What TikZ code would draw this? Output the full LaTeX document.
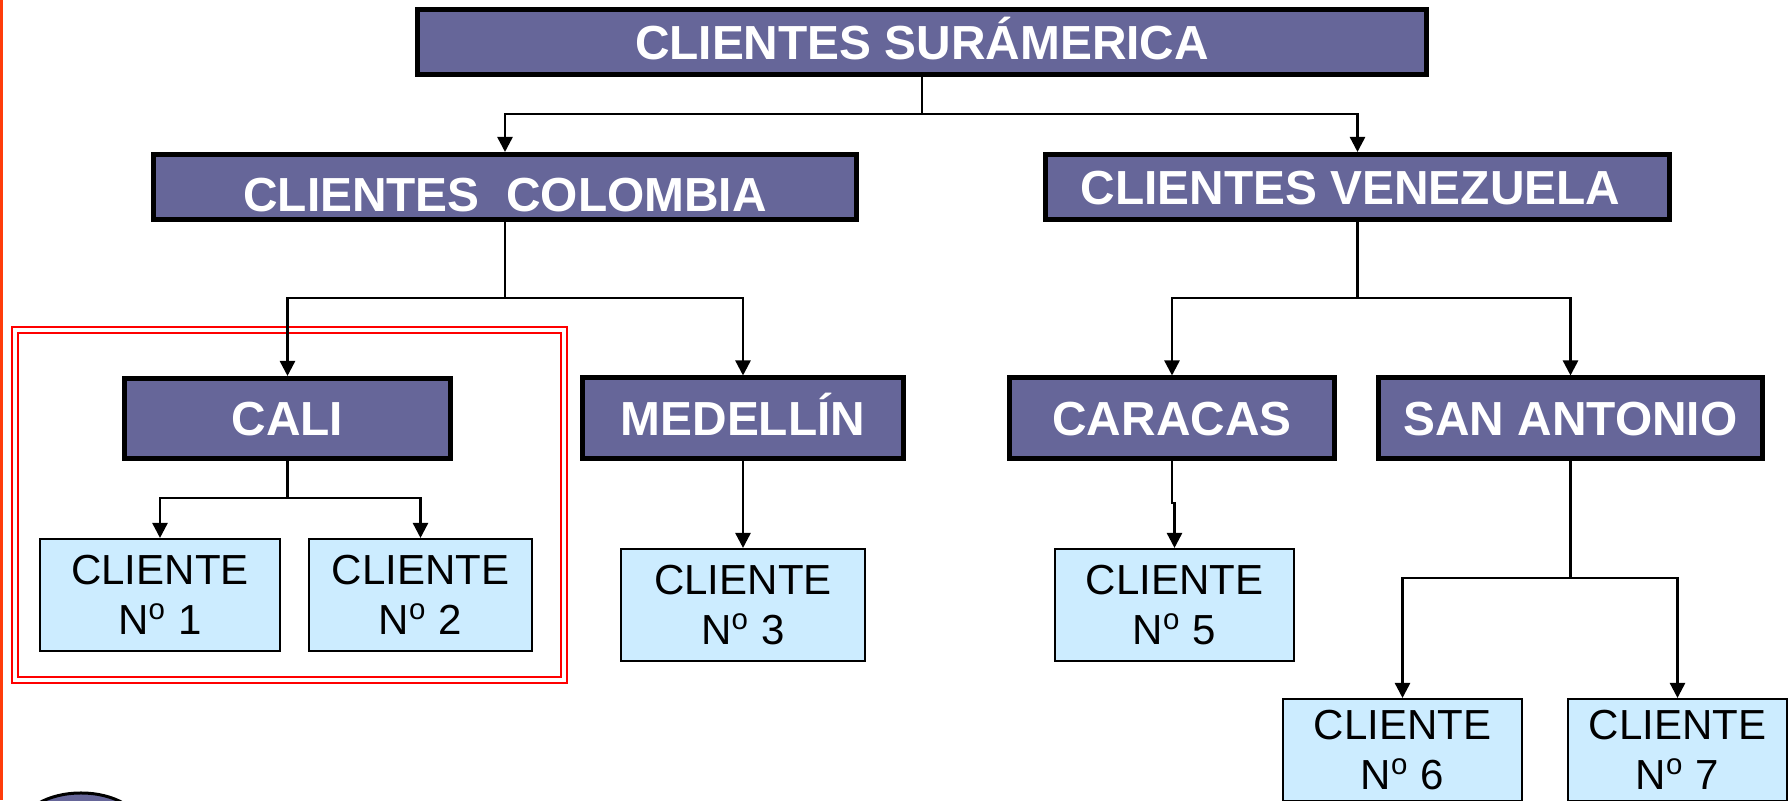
\documentclass[tikz,border=0pt]{standalone}
\usepackage{fontspec}
\setmainfont{Liberation Sans}
\usetikzlibrary{arrows.meta}
\definecolor{hdrfill}{RGB}{102,102,153}
\definecolor{clifill}{RGB}{204,236,255}
\definecolor{edgeorange}{RGB}{255,60,10}

\begin{document}
\begin{tikzpicture}[x=0.01cm,y=-0.01cm,
                        >={Triangle[length=0.15cm,width=0.15cm]},
                        hdr/.style={draw=black,fill=hdrfill,line width=0.05cm,text=white,
                            font=\bfseries\fontsize{13.6}{16}\selectfont,inner sep=0pt,
                            minimum height=0.65cm,text height=0.34cm,text depth=0cm},
                        cli/.style={draw=black,fill=clifill,line width=0.02cm,align=center,
                            font=\fontsize{11.95}{14.2}\selectfont,inner sep=0pt,
                            minimum height=1.12cm},
                        link/.style={->,line width=0.025cm},
                        frame/.style={draw=red,double=white,line width=0.025cm,double distance=0.035cm}]
                        \useasboundingbox (0,0) rectangle (1791,800);
                        \fill[edgeorange] (0,0) rectangle (3,800);
                        \draw[fill=hdrfill,line width=0.03cm] (81,828) ellipse [x radius=0.6cm,y radius=0.35cm];
                        \draw[frame] (15,330) rectangle (564,680);
                        \node[hdr,minimum width=10.09cm] (root) at (922,42) {CLIENTES SURÁMERICA};
                        \node[hdr,minimum width=7.03cm,text height=0.48cm] (col) at (505,187) {CLIENTES~~COLOMBIA};
                        \node[hdr,minimum width=6.24cm] (ven) at (1357.5,187) {CLIENTES VENEZUELA\hspace*{0.14cm}};
                        \node[hdr,minimum width=3.26cm,minimum height=0.80cm] (cali) at (287.5,418.5) {CALI};
                        \node[hdr,minimum width=3.21cm,minimum height=0.80cm] (med) at (743,418) {MEDELLÍN};
                        \node[hdr,minimum width=3.25cm,minimum height=0.80cm] (car) at (1172,418) {CARACAS};
                        \node[hdr,minimum width=3.84cm,minimum height=0.80cm] (san) at (1570.5,418) {SAN ANTONIO};
                        \node[cli,minimum width=2.40cm] (c1) at (160,595) {CLIENTE\\N\textsuperscript{o} 1};
                        \node[cli,minimum width=2.23cm] (c2) at (420.5,595) {CLIENTE\\N\textsuperscript{o} 2};
                        \node[cli,minimum width=2.44cm] (c3) at (743,605) {CLIENTE\\N\textsuperscript{o} 3};
                        \node[cli,minimum width=2.39cm] (c5) at (1174.5,605) {CLIENTE\\N\textsuperscript{o} 5};
                        \node[cli,minimum width=2.39cm,minimum height=1.02cm] (c6) at (1402.5,750) {CLIENTE\\N\textsuperscript{o} 6};
                        \node[cli,minimum width=2.19cm,minimum height=1.02cm] (c7) at (1677.5,750) {CLIENTE\\N\textsuperscript{o} 7};
                        \coordinate (jroot) at (922,114);
                        \coordinate (jcol) at (505,298);
                        \coordinate (jven) at (1357.5,298);
                        \coordinate (jcali) at (287.5,498);
                        \coordinate (jsan) at (1570.5,578);
                        \draw[link] (root) -- (jroot) -| (col.north);
                        \draw[link] (jroot) -| (ven.north);
                        \draw[link] (col) -- (jcol) -| (cali.north);
                        \draw[link] (jcol) -| (med.north);
                        \draw[link] (ven) -- (jven) -| (car.north);
                        \draw[link] (jven) -| (san.north);
                        \draw[link] (cali) -- (jcali) -| (c1.north);
                        \draw[link] (jcali) -| (c2.north);
                        \draw[link] (med) -- (c3);
                        \draw[link] (car) -- ++(0,85) -| (c5.north);
                        \draw[link] (san) -- (jsan) -| (c6.north);
                        \draw[link] (jsan) -| (c7.north);
                    \end{tikzpicture}
\end{document}
